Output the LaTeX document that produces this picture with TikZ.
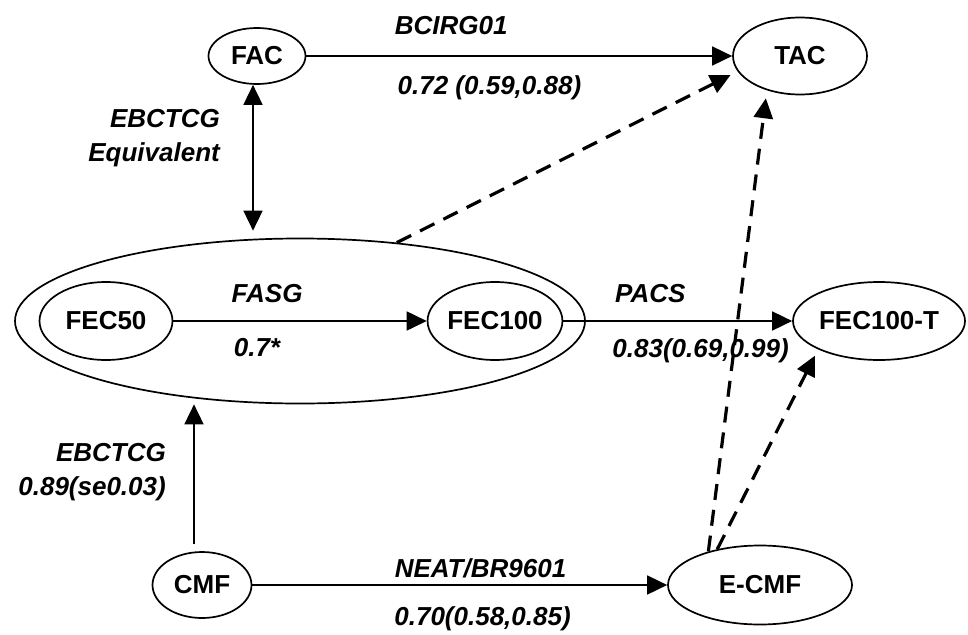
\documentclass[tikz,border=0pt]{standalone}
\usepackage{fontspec}
\setmainfont{Liberation Sans}
\usetikzlibrary{arrows.meta,positioning,shapes.geometric}

\begin{document}
\begin{tikzpicture}[->, >={Triangle[length=20pt,width=19pt]}, x=1pt, y=-1pt, on grid, line width=1.7pt,
    main node/.style={ellipse, draw, inner sep=0pt, font={\fontsize{26}{34}\selectfont\bfseries}},
    dashed link/.style={line width=3.2pt, dash pattern=on 16pt off 10pt}]
        \tikzstyle{every node}=[font={\fontsize{26}{34}\selectfont\bfseries\itshape}]
        \useasboundingbox (0,0) rectangle (968,634);

          \node[main node, minimum width=133pt, minimum height=78pt] (1) at (106,321) {FEC50};
          \node[main node, minimum width=133pt, minimum height=78pt] (2) [right=389pt of 1] {FEC100};
          \node[main node, minimum width=570pt, minimum height=165pt] (0) [right=194pt of 1] {};
          \node[main node, minimum width=172pt, minimum height=78pt] (3) [right=384pt of 2] {FEC100-T};
          \node[main node, minimum width=97pt, minimum height=56pt] (4) [above right=265pt and 151pt of 1] {FAC};
          \node[main node, minimum width=134pt, minimum height=77pt] (5) [right=543pt of 4] {TAC};
          \node[main node, minimum width=99pt, minimum height=66pt] (6) [below right=264pt and 96pt of 1] {CMF};
          \node[main node, minimum width=184pt, minimum height=79pt] (7) [right=558pt of 6] {E-CMF};
          \coordinate (4a) at ([xshift=-4pt]4.south);
          \coordinate (6a) at ([xshift=-8pt]6.north);

          \path
            (1) edge node [above=14pt, pos=0.37] {FASG} node [below=13pt, pos=0.33] {0.7*} (2)
            (2) edge node [above=14.5pt, pos=0.38] {PACS} node [below=13.5pt, pos=0.6] {0.83(0.69,0.99)} (3)
            (4) edge node [above=17pt, pos=0.34] {BCIRG01} node [below=15pt, pos=0.43] {0.72 (0.59,0.88)} (5)
            (4a) edge [<->, shorten >=7pt] node [left=29pt, pos=0.35, align=right] {EBCTCG\\Equivalent} (4a |- 0.north)
            (6) edge node [above=3pt, pos=0.55] {NEAT/BR9601} node [below=17pt, pos=0.555] {0.70(0.58,0.85)} (7)
            (6a) edge [shorten <=7pt] node [left=24pt, pos=0.54, align=right] {EBCTCG\\0.89(se0.03)} (6a |- 0.south)
            (0.39) edge [dashed link, shorten >=8pt] (5.194)
            (7.147) edge [dashed link, shorten >=8pt] (5.226)
            (7.140) edge [dashed link, shorten >=7pt] (3.205);

        \end{tikzpicture}
\end{document}
